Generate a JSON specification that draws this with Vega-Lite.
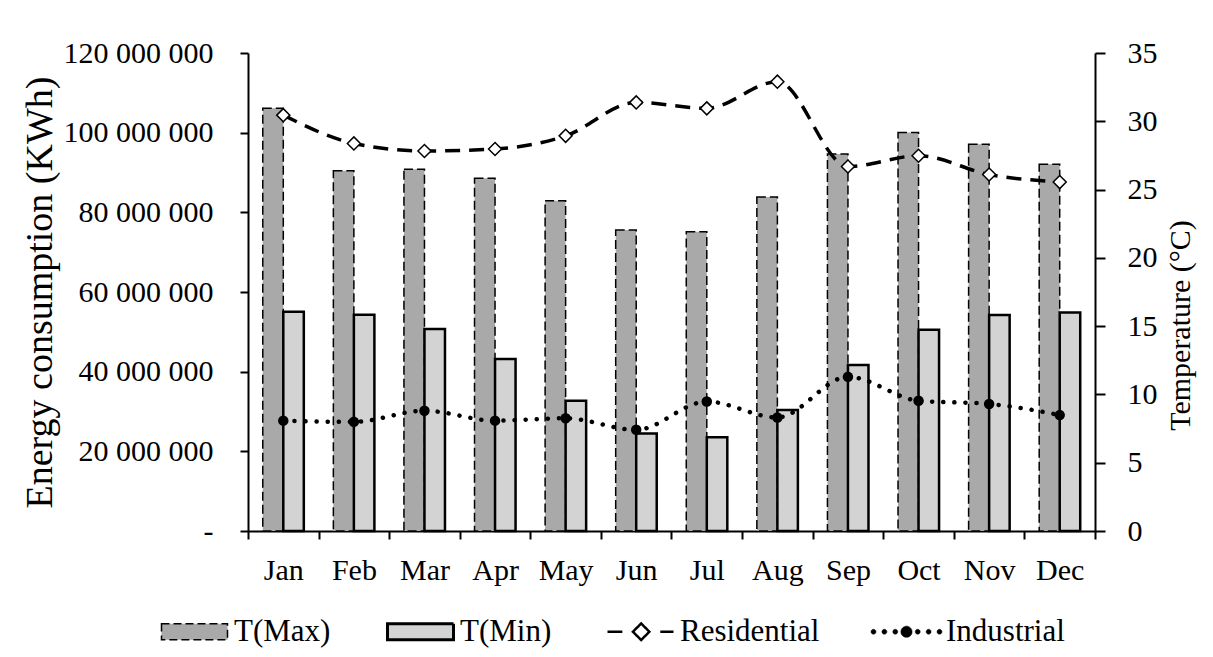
{
  "$schema": "https://vega.github.io/schema/vega-lite/v6.json",
  "width": 847,
  "height": 478,
  "autosize": {"type": "none"},
  "padding": {"left": 248, "top": 53, "right": 118, "bottom": 126},
  "background": "white",
  "config": {
    "font": "Liberation Serif",
    "view": {"stroke": null},
    "axis": {
      "domainColor": "black",
      "domainWidth": 2,
      "tickColor": "black",
      "tickWidth": 2,
      "labelColor": "black",
      "titleColor": "black",
      "labelFont": "Liberation Serif",
      "titleFont": "Liberation Serif",
      "titleFontWeight": "normal",
      "grid": false,
      "zindex": 1
    }
  },
  "data": {
    "values": [
      {"month": "Jan", "series": "T(Max)", "value": 30.95},
      {"month": "Feb", "series": "T(Max)", "value": 26.38},
      {"month": "Mar", "series": "T(Max)", "value": 26.48},
      {"month": "Apr", "series": "T(Max)", "value": 25.82},
      {"month": "May", "series": "T(Max)", "value": 24.19},
      {"month": "Jun", "series": "T(Max)", "value": 22.04},
      {"month": "Jul", "series": "T(Max)", "value": 21.92},
      {"month": "Aug", "series": "T(Max)", "value": 24.46},
      {"month": "Sep", "series": "T(Max)", "value": 27.6},
      {"month": "Oct", "series": "T(Max)", "value": 29.17},
      {"month": "Nov", "series": "T(Max)", "value": 28.31},
      {"month": "Dec", "series": "T(Max)", "value": 26.85},
      {"month": "Jan", "series": "T(Min)", "value": 16.06},
      {"month": "Feb", "series": "T(Min)", "value": 15.84},
      {"month": "Mar", "series": "T(Min)", "value": 14.79},
      {"month": "Apr", "series": "T(Min)", "value": 12.59},
      {"month": "May", "series": "T(Min)", "value": 9.54},
      {"month": "Jun", "series": "T(Min)", "value": 7.13},
      {"month": "Jul", "series": "T(Min)", "value": 6.86},
      {"month": "Aug", "series": "T(Min)", "value": 8.86},
      {"month": "Sep", "series": "T(Min)", "value": 12.15},
      {"month": "Oct", "series": "T(Min)", "value": 14.74},
      {"month": "Nov", "series": "T(Min)", "value": 15.82},
      {"month": "Dec", "series": "T(Min)", "value": 15.99},
      {"month": "Jan", "series": "Residential", "value": 104400000},
      {"month": "Feb", "series": "Residential", "value": 97300000},
      {"month": "Mar", "series": "Residential", "value": 95400000},
      {"month": "Apr", "series": "Residential", "value": 95900000},
      {"month": "May", "series": "Residential", "value": 99200000},
      {"month": "Jun", "series": "Residential", "value": 107600000},
      {"month": "Jul", "series": "Residential", "value": 106100000},
      {"month": "Aug", "series": "Residential", "value": 112800000},
      {"month": "Sep", "series": "Residential", "value": 91500000},
      {"month": "Oct", "series": "Residential", "value": 94200000},
      {"month": "Nov", "series": "Residential", "value": 89500000},
      {"month": "Dec", "series": "Residential", "value": 87600000},
      {"month": "Jan", "series": "Industrial", "value": 27700000},
      {"month": "Feb", "series": "Industrial", "value": 27400000},
      {"month": "Mar", "series": "Industrial", "value": 30200000},
      {"month": "Apr", "series": "Industrial", "value": 27700000},
      {"month": "May", "series": "Industrial", "value": 28300000},
      {"month": "Jun", "series": "Industrial", "value": 25400000},
      {"month": "Jul", "series": "Industrial", "value": 32500000},
      {"month": "Aug", "series": "Industrial", "value": 28500000},
      {"month": "Sep", "series": "Industrial", "value": 38700000},
      {"month": "Oct", "series": "Industrial", "value": 32700000},
      {"month": "Nov", "series": "Industrial", "value": 31900000},
      {"month": "Dec", "series": "Industrial", "value": 29100000}
    ]
  },
  "encoding": {
    "x": {
      "field": "month",
      "type": "nominal",
      "sort": ["Jan", "Feb", "Mar", "Apr", "May", "Jun", "Jul", "Aug", "Sep", "Oct", "Nov", "Dec"],
      "scale": {"paddingInner": 0, "paddingOuter": 0},
      "axis": {
        "title": null,
        "orient": "bottom",
        "labelAngle": 0,
        "labelFontSize": 30,
        "tickSize": 8,
        "tickBand": "extent",
        "labelPadding": 16
      }
    }
  },
  "layer": [
    {
      "encoding": {
        "xOffset": {
          "field": "series",
          "type": "nominal",
          "scale": {"domain": ["T(Max)", "T(Min)"], "paddingInner": 0, "paddingOuter": 0.72}
        },
        "y": {
          "field": "value",
          "type": "quantitative",
          "scale": {"domain": [0, 35], "nice": false, "zero": true},
          "axis": {
            "orient": "right",
            "title": "Temperature (°C)",
            "values": [0, 5, 10, 15, 20, 25, 30, 35],
            "labelFontSize": 30,
            "tickSize": 10,
            "labelPadding": 22,
            "titleFontSize": 30,
            "titleAngle": 270,
            "titleY": 272,
            "titlePadding": 38
          }
        },
        "color": {
          "field": "series",
          "type": "nominal",
          "scale": {
            "domain": ["T(Max)", "T(Min)", "Residential", "Industrial"],
            "range": ["#a9a9a9", "#d3d3d3", "white", "black"]
          },
          "legend": {
            "title": null,
            "orient": "none",
            "legendX": -69,
            "legendY": 563,
            "direction": "horizontal",
            "columns": 4,
            "symbolSize": 4356,
            "symbolType": {"expr": "datum.value === 'T(Max)' || datum.value === 'T(Min)' ? 'M-1,-0.24H1V0.24H-1Z' : datum.value === 'Residential' ? 'M-1,0H-0.55M0.02,-0.25L0.27,0L0.02,0.25L-0.23,0ZM0.6,0H1' : 'M-0.925,0A0.075,0.075 0 1,1 -1.075,0A0.075,0.075 0 1,1 -0.925,0ZM-0.595,0A0.075,0.075 0 1,1 -0.745,0A0.075,0.075 0 1,1 -0.595,0ZM-0.265,0A0.075,0.075 0 1,1 -0.415,0A0.075,0.075 0 1,1 -0.265,0ZM0.17,0A0.17,0.17 0 1,1 -0.17,0A0.17,0.17 0 1,1 0.17,0ZM0.415,0A0.075,0.075 0 1,1 0.265,0A0.075,0.075 0 1,1 0.415,0ZM0.745,0A0.075,0.075 0 1,1 0.595,0A0.075,0.075 0 1,1 0.745,0ZM1.075,0A0.075,0.075 0 1,1 0.925,0A0.075,0.075 0 1,1 1.075,0Z'"},
            "symbolStrokeColor": "black",
            "symbolStrokeWidth": {"expr": "datum.value === 'T(Max)' ? 1.5 : datum.value === 'T(Min)' ? 3 : datum.value === 'Residential' ? 2.5 : 0.5"},
            "symbolDash": {"expr": "datum.value === 'T(Max)' ? [8, 4] : [1, 0]"},
            "symbolOpacity": 1,
            "labelFontSize": 31,
            "labelFont": "Liberation Serif",
            "labelColor": "black",
            "labelOffset": 24,
            "columnPadding": 50,
            "padding": 0
          }
        }
      },
      "layer": [
        {
          "transform": [{"filter": "datum.series === 'T(Max)'"}],
          "mark": {"type": "bar", "stroke": "black", "strokeWidth": 1.5, "strokeDash": [9, 4], "opacity": 1}
        },
        {
          "transform": [{"filter": "datum.series === 'T(Min)'"}],
          "mark": {"type": "bar", "stroke": "black", "strokeWidth": 2.5, "opacity": 1}
        }
      ]
    },
    {
      "encoding": {
        "y": {
          "field": "value",
          "type": "quantitative",
          "scale": {"domain": [0, 120000000], "nice": false},
          "axis": {
            "orient": "left",
            "title": "Energy consumption (KWh)",
            "values": [0, 20000000, 40000000, 60000000, 80000000, 100000000, 120000000],
            "labelExpr": "datum.value == 0 ? '-\u00a0\u00a0\u00a0' : replace(format(datum.value, ','), regexp(',', 'g'), ' ')",
            "labelFontSize": 30,
            "tickSize": 8,
            "labelPadding": 27,
            "titleFontSize": 38,
            "titlePadding": 4
          }
        }
      },
      "layer": [
        {
          "transform": [{"filter": "datum.series === 'Residential'"}],
          "mark": {"type": "line", "color": "black", "strokeWidth": 3.5, "strokeDash": [15, 9], "interpolate": "monotone"}
        },
        {
          "transform": [{"filter": "datum.series === 'Residential'"}],
          "mark": {"type": "point", "shape": "diamond", "filled": true, "fill": "white", "stroke": "black", "strokeWidth": 1.5, "size": 170, "opacity": 1}
        },
        {
          "transform": [{"filter": "datum.series === 'Industrial'"}],
          "mark": {"type": "line", "color": "black", "strokeWidth": 4.5, "strokeDash": [0.1, 11], "strokeCap": "round", "interpolate": "monotone"}
        },
        {
          "transform": [{"filter": "datum.series === 'Industrial'"}],
          "mark": {"type": "circle", "size": 110, "color": "black", "opacity": 1}
        }
      ]
    }
  ],
  "resolve": {"scale": {"y": "independent"}}
}
